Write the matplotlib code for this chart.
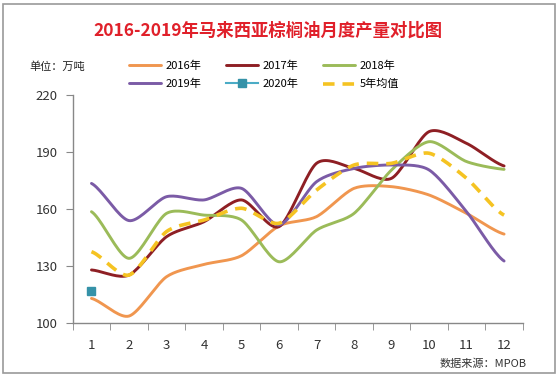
import numpy as np
import matplotlib
matplotlib.use("Agg")
import matplotlib.pyplot as plt
from matplotlib.patches import Rectangle

plt.rcParams['font.family'] = ['Noto Sans CJK SC', 'DejaVu Sans']

months = list(range(1, 13))
month_labels = [str(m) for m in months]

y2016 = [112.8, 103.5, 124.2, 130.7, 135.3, 151.0, 155.9, 170.8, 171.7, 167.3, 157.6, 146.7]
y2017 = [127.8, 125.1, 145.3, 153.2, 164.7, 150.6, 184.0, 181.3, 176.1, 200.7, 194.5, 182.6]
y2018 = [158.5, 133.9, 157.6, 156.7, 154.1, 132.1, 148.8, 157.6, 180.5, 195.4, 184.9, 180.8]
y2019 = [173.4, 153.8, 166.4, 164.7, 170.8, 151.5, 174.3, 181.3, 183.1, 180.5, 158.5, 132.5]
y2020 = [116.7]
avg5 = [137.4, 125.1, 148.0, 154.1, 160.3, 152.4, 169.9, 183.1, 184.0, 189.3, 176.1, 156.7]

series = [
    ("2016年", y2016, "#F0964F"),
    ("2017年", y2017, "#8E1F24"),
    ("2018年", y2018, "#9BBB59"),
    ("2019年", y2019, "#7B5BA6"),
]


def smooth(x, y, n=20):
    # Catmull-Rom style smoothing, like Excel's smoothed lines
    x = np.asarray(x, float)
    y = np.asarray(y, float)
    px = np.concatenate([[2 * x[0] - x[1]], x, [2 * x[-1] - x[-2]]])
    py = np.concatenate([[y[0]], y, [y[-1]]])
    xs, ys = [], []
    for i in range(1, len(px) - 2):
        t = np.linspace(0, 1, n, endpoint=False)
        for arr, out in ((px, xs), (py, ys)):
            p0, p1, p2, p3 = arr[i - 1], arr[i], arr[i + 1], arr[i + 2]
            m1 = (p2 - p0) / 2 * 0.8
            m2 = (p3 - p1) / 2 * 0.8
            h00 = 2 * t**3 - 3 * t**2 + 1
            h10 = t**3 - 2 * t**2 + t
            h01 = -2 * t**3 + 3 * t**2
            h11 = t**3 - t**2
            out.extend(h00 * p1 + h10 * m1 + h01 * p2 + h11 * m2)
    xs.append(x[-1])
    ys.append(y[-1])
    return np.array(xs), np.array(ys)


fig = plt.figure(figsize=(5.58, 3.78), dpi=100)
fig.patches.append(Rectangle((0.006, 0.013), 0.988, 0.977, transform=fig.transFigure,
                             fill=False, edgecolor="#9a9a9a", linewidth=1.2))
ax = fig.add_axes([0.1303, 0.1463, 0.8067, 0.6024])

handles = []
for name, vals, color in series:
    sx, sy = smooth(months, vals)
    h, = ax.plot(sx, sy, color=color, lw=2.1, label=name, solid_capstyle="round")
    handles.append(h)

h2020, = ax.plot(months[:len(y2020)], y2020, color="#4BACC6", marker="s", markersize=6,
                 markerfacecolor="#3592A8", markeredgecolor="#3592A8", lw=1.5, label="2020年")
sx, sy = smooth(months, avg5)
havg, = ax.plot(sx, sy, color="#F5C322", lw=2.6, ls=(0, (3.2, 2.2)), label="5年均值")

ax.set_xlim(0.5, 12.5)
ax.set_ylim(100, 220)
ax.set_yticks([100, 130, 160, 190, 220])
ax.set_xticks(months)
ax.set_xticklabels(month_labels)
ax.set_xticks(np.arange(0.5, 13, 1), minor=True)
ax.tick_params(axis="x", which="major", length=0, pad=12, labelsize=9.5, colors="#333333")
ax.tick_params(axis="x", which="minor", length=5, color="#888888")
ax.tick_params(axis="y", length=5, color="#888888", labelsize=9.5, colors="#333333", pad=6)
for s in ["top", "right"]:
    ax.spines[s].set_visible(False)
for s in ["left", "bottom"]:
    ax.spines[s].set_color("#888888")
    ax.spines[s].set_linewidth(1.0)

fig.text(0.481, 0.92, "2016-2019年马来西亚棕榈油月度产量对比图", ha="center", va="center",
         fontsize=12.5, fontweight="bold", color="#E0202A")
fig.text(0.052, 0.823, "单位：万吨", ha="left", va="center", fontsize=8, color="#222222")
fig.text(0.943, 0.038, "数据来源：MPOB", ha="right", va="center", fontsize=8, color="#333333")

order = [handles[0], handles[3], handles[1], h2020, handles[2], havg]
fig.legend(handles=order, labels=[h.get_label() for h in order], ncol=3,
           loc="center left", bbox_to_anchor=(0.213, 0.802), frameon=False,
           fontsize=8, handlelength=2.9, handletextpad=0.4, columnspacing=2.2,
           labelspacing=0.75)

fig.savefig("out.png", dpi=100)
